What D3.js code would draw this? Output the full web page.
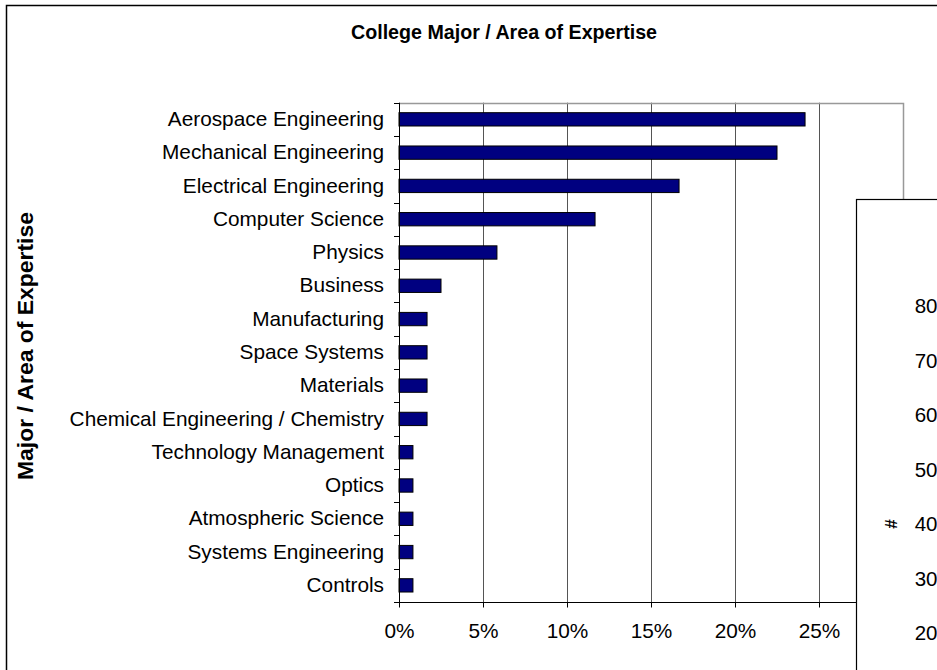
<!DOCTYPE html>
<html>
<head>
<meta charset="utf-8">
<script src="https://cdn.jsdelivr.net/npm/d3@7"></script>
<style>
  html, body { margin: 0; padding: 0; background: #fff; }
  svg { display: block; font-family: "Liberation Sans", Arial, sans-serif; }
</style>
</head>
<body>
<svg id="chart" width="937" height="670"></svg>
<script>
// ---- data ----
const chartTitle = "College Major / Area of Expertise";
const yAxisTitle = "Major / Area of Expertise";
const categories = [
  "Aerospace Engineering", "Mechanical Engineering", "Electrical Engineering",
  "Computer Science", "Physics", "Business", "Manufacturing", "Space Systems",
  "Materials", "Chemical Engineering / Chemistry", "Technology Management",
  "Optics", "Atmospheric Science", "Systems Engineering", "Controls"
];
const percentValues = [24.17, 22.5, 16.67, 11.67, 5.83, 2.5, 1.67, 1.67, 1.67, 1.67, 0.83, 0.83, 0.83, 0.83, 0.83];
const xTickValues = [0, 5, 10, 15, 20, 25];
const xTickLabels = ["0%", "5%", "10%", "15%", "20%", "25%"];
const xMax = 30;
// overlapping second chart (only partly visible)
const secondTitle = "#";
const secondTickValues = [80, 70, 60, 50, 40, 30, 20];

// ---- layout ----
const svg = d3.select("#chart");
const plot = { left: 399, right: 903, top: 102.7, bottom: 602 };
const fontSize = 20.8;

// outer chart border
svg.append("rect").attr("x", 6.5).attr("y", 5.5).attr("width", 1000).attr("height", 1000)
  .attr("fill", "#fff").attr("stroke", "#000").attr("stroke-width", 1.5);

const x = d3.scaleLinear().domain([0, xMax]).range([plot.left, plot.right]);
const y = d3.scaleBand().domain(categories).range([plot.top, plot.bottom])
  .paddingInner(0.6).paddingOuter(0.3);

// gridlines
svg.append("g").selectAll("line").data(xTickValues.slice(1)).join("line")
  .attr("x1", d => Math.round(x(d)) + 0.5).attr("x2", d => Math.round(x(d)) + 0.5)
  .attr("y1", plot.top).attr("y2", plot.bottom)
  .attr("stroke", "#555").attr("stroke-width", 1);

// plot border (top + right)
svg.append("path")
  .attr("d", `M${plot.left},${Math.round(plot.top) + 0.5}H${Math.round(x(xMax)) + 0.5}V${plot.bottom}`)
  .attr("fill", "none").attr("stroke", "#999").attr("stroke-width", 1.5);

// bars
svg.append("g").selectAll("rect").data(categories).join("rect")
  .attr("x", x(0))
  .attr("y", d => y(d))
  .attr("width", (d, i) => x(percentValues[i]) - x(0))
  .attr("height", y.bandwidth())
  .attr("fill", "#000080").attr("stroke", "#000").attr("stroke-width", 1);

// y axis (category labels)
const yAxis = svg.append("g").attr("transform", `translate(${plot.left},0)`)
  .call(d3.axisLeft(y).tickSize(0).tickPadding(15));
yAxis.select(".domain").remove();
yAxis.selectAll("text").attr("font-size", fontSize).attr("fill", "#000")
  .attr("font-family", "Liberation Sans, Arial, sans-serif");
// y axis line + boundary ticks
svg.append("line").attr("x1", plot.left + 0.5).attr("x2", plot.left + 0.5)
  .attr("y1", plot.top).attr("y2", plot.bottom).attr("stroke", "#000");
svg.append("g").selectAll("line").data(d3.range(categories.length + 1)).join("line")
  .attr("x1", plot.left - 5).attr("x2", plot.left)
  .attr("y1", i => Math.round(y.range()[0] + i * y.step()) + 0.5)
  .attr("y2", i => Math.round(y.range()[0] + i * y.step()) + 0.5)
  .attr("stroke", "#000");

// x axis
const xAxis = svg.append("g").attr("transform", `translate(0,${Math.round(plot.bottom) + 0.5})`)
  .call(d3.axisBottom(x).tickValues(xTickValues).tickSize(5).tickPadding(16)
    .tickFormat((d, i) => xTickLabels[i]));
xAxis.select(".domain").attr("stroke", "#000").attr("d", `M${plot.left},0H${plot.right}`);
xAxis.selectAll("line").attr("stroke", "#000");
xAxis.selectAll("text").attr("font-size", fontSize).attr("fill", "#000")
  .attr("font-family", "Liberation Sans, Arial, sans-serif");

// chart title
svg.append("text").attr("x", 504).attr("y", 38.5).attr("text-anchor", "middle")
  .attr("font-weight", "bold").attr("font-size", 21)
  .attr("textLength", 306).attr("lengthAdjust", "spacingAndGlyphs")
  .text(chartTitle);

// y axis title
svg.append("text").attr("transform", `translate(33,346) rotate(-90)`)
  .attr("text-anchor", "middle").attr("font-weight", "bold").attr("font-size", 21.5)
  .attr("textLength", 268).attr("lengthAdjust", "spacingAndGlyphs")
  .text(yAxisTitle);

// ---- overlapping second chart ----
svg.append("rect").attr("x", 856.5).attr("y", 199.5).attr("width", 200).attr("height", 600)
  .attr("fill", "#fff").attr("stroke", "#000").attr("stroke-width", 1.2);
const y2 = d3.scaleLinear().domain([20, 80]).range([633, 306]);
const y2Axis = svg.append("g").attr("transform", "translate(937.5,0)")
  .call(d3.axisLeft(y2).tickValues(secondTickValues).tickSize(0).tickPadding(0)
    .tickFormat(d3.format("d")));
y2Axis.select(".domain").remove();
y2Axis.selectAll("text").attr("font-size", 20.5).attr("fill", "#000")
  .attr("font-family", "Liberation Sans, Arial, sans-serif");
svg.append("text").attr("transform", `translate(897,${y2(40)}) rotate(-90)`)
  .attr("text-anchor", "middle").attr("font-weight", "bold").attr("font-size", 17)
  .text(secondTitle);
</script>
</body>
</html>
